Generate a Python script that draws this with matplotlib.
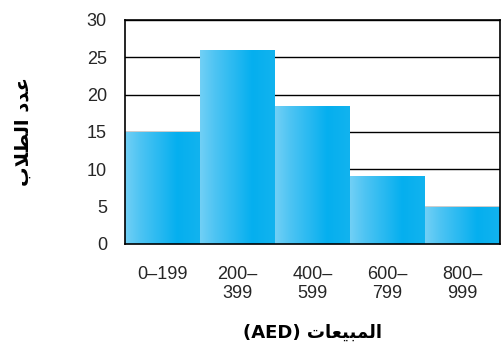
import numpy as np
import matplotlib.pyplot as plt
from matplotlib.colors import LinearSegmentedColormap

# data
ranges = ["0–199", "200–\n399", "400–\n599", "600–\n799", "800–\n999"]
students = [15, 26, 18.4, 9.1, 5]
yticks = [0, 5, 10, 15, 20, 25, 30]

# arabic written with presentation forms in visual order (mpl does no shaping)
ylabel_ar = "\uFE8F\uFEFC\uFEC4\uFEDF\uFE8D \uFEA9\uFEAA\uFECB"   # عدد الطلاب
xlabel_ar = "(AED) \uFE95\uFE8E\uFECC\uFEF4\uFE92\uFEE4\uFEDF\uFE8D"  # المبيعات (AED)

plt.rcParams['font.family'] = ['Liberation Sans', 'DejaVu Sans']

fig = plt.figure(figsize=(5.04, 3.48), dpi=100)
ax = fig.add_axes([0.248, 0.299, 0.744, 0.644])

cmap = LinearSegmentedColormap.from_list(
    "bar", [(0, "#72d0f6"), (0.2, "#4ec4f3"), (0.7, "#05afef"), (1, "#12b3ee")])
grad = np.linspace(0, 1, 256).reshape(1, -1)

x = np.arange(len(students))
bars = ax.bar(x, students, width=1.0, color='none', linewidth=0, zorder=2)
for b in bars:
    im = ax.imshow(grad, cmap=cmap, aspect='auto', zorder=2,
                   extent=[b.get_x(), b.get_x() + b.get_width(), 0, b.get_height()])
    im.set_clip_path(b)

ax.set_xlim(-0.5, len(students) - 0.5)
ax.set_ylim(0, 30)
ax.set_yticks(yticks)
ax.yaxis.grid(True, color='black', linewidth=1.0, zorder=1)
ax.set_axisbelow(True)
ax.set_xticks(x)
ax.set_xticklabels(ranges, fontsize=13, linespacing=1.15, va='top')
ax.tick_params(axis='y', length=0, pad=13, labelsize=13, labelcolor='#262626')
ax.tick_params(axis='x', length=0, pad=16, labelcolor='#262626')
for s in ax.spines.values():
    s.set_color('black')
    s.set_linewidth(1.2)

ax.set_ylabel(ylabel_ar, fontsize=14, fontweight='bold', family=['DejaVu Sans'])
ax.yaxis.set_label_coords(-0.245, 0.5)
ax.set_xlabel(xlabel_ar, fontsize=13, fontweight='bold', family=['DejaVu Sans'],
              va='top')
ax.xaxis.set_label_coords(0.5, -0.355)

fig.savefig("out.png", dpi=100)
